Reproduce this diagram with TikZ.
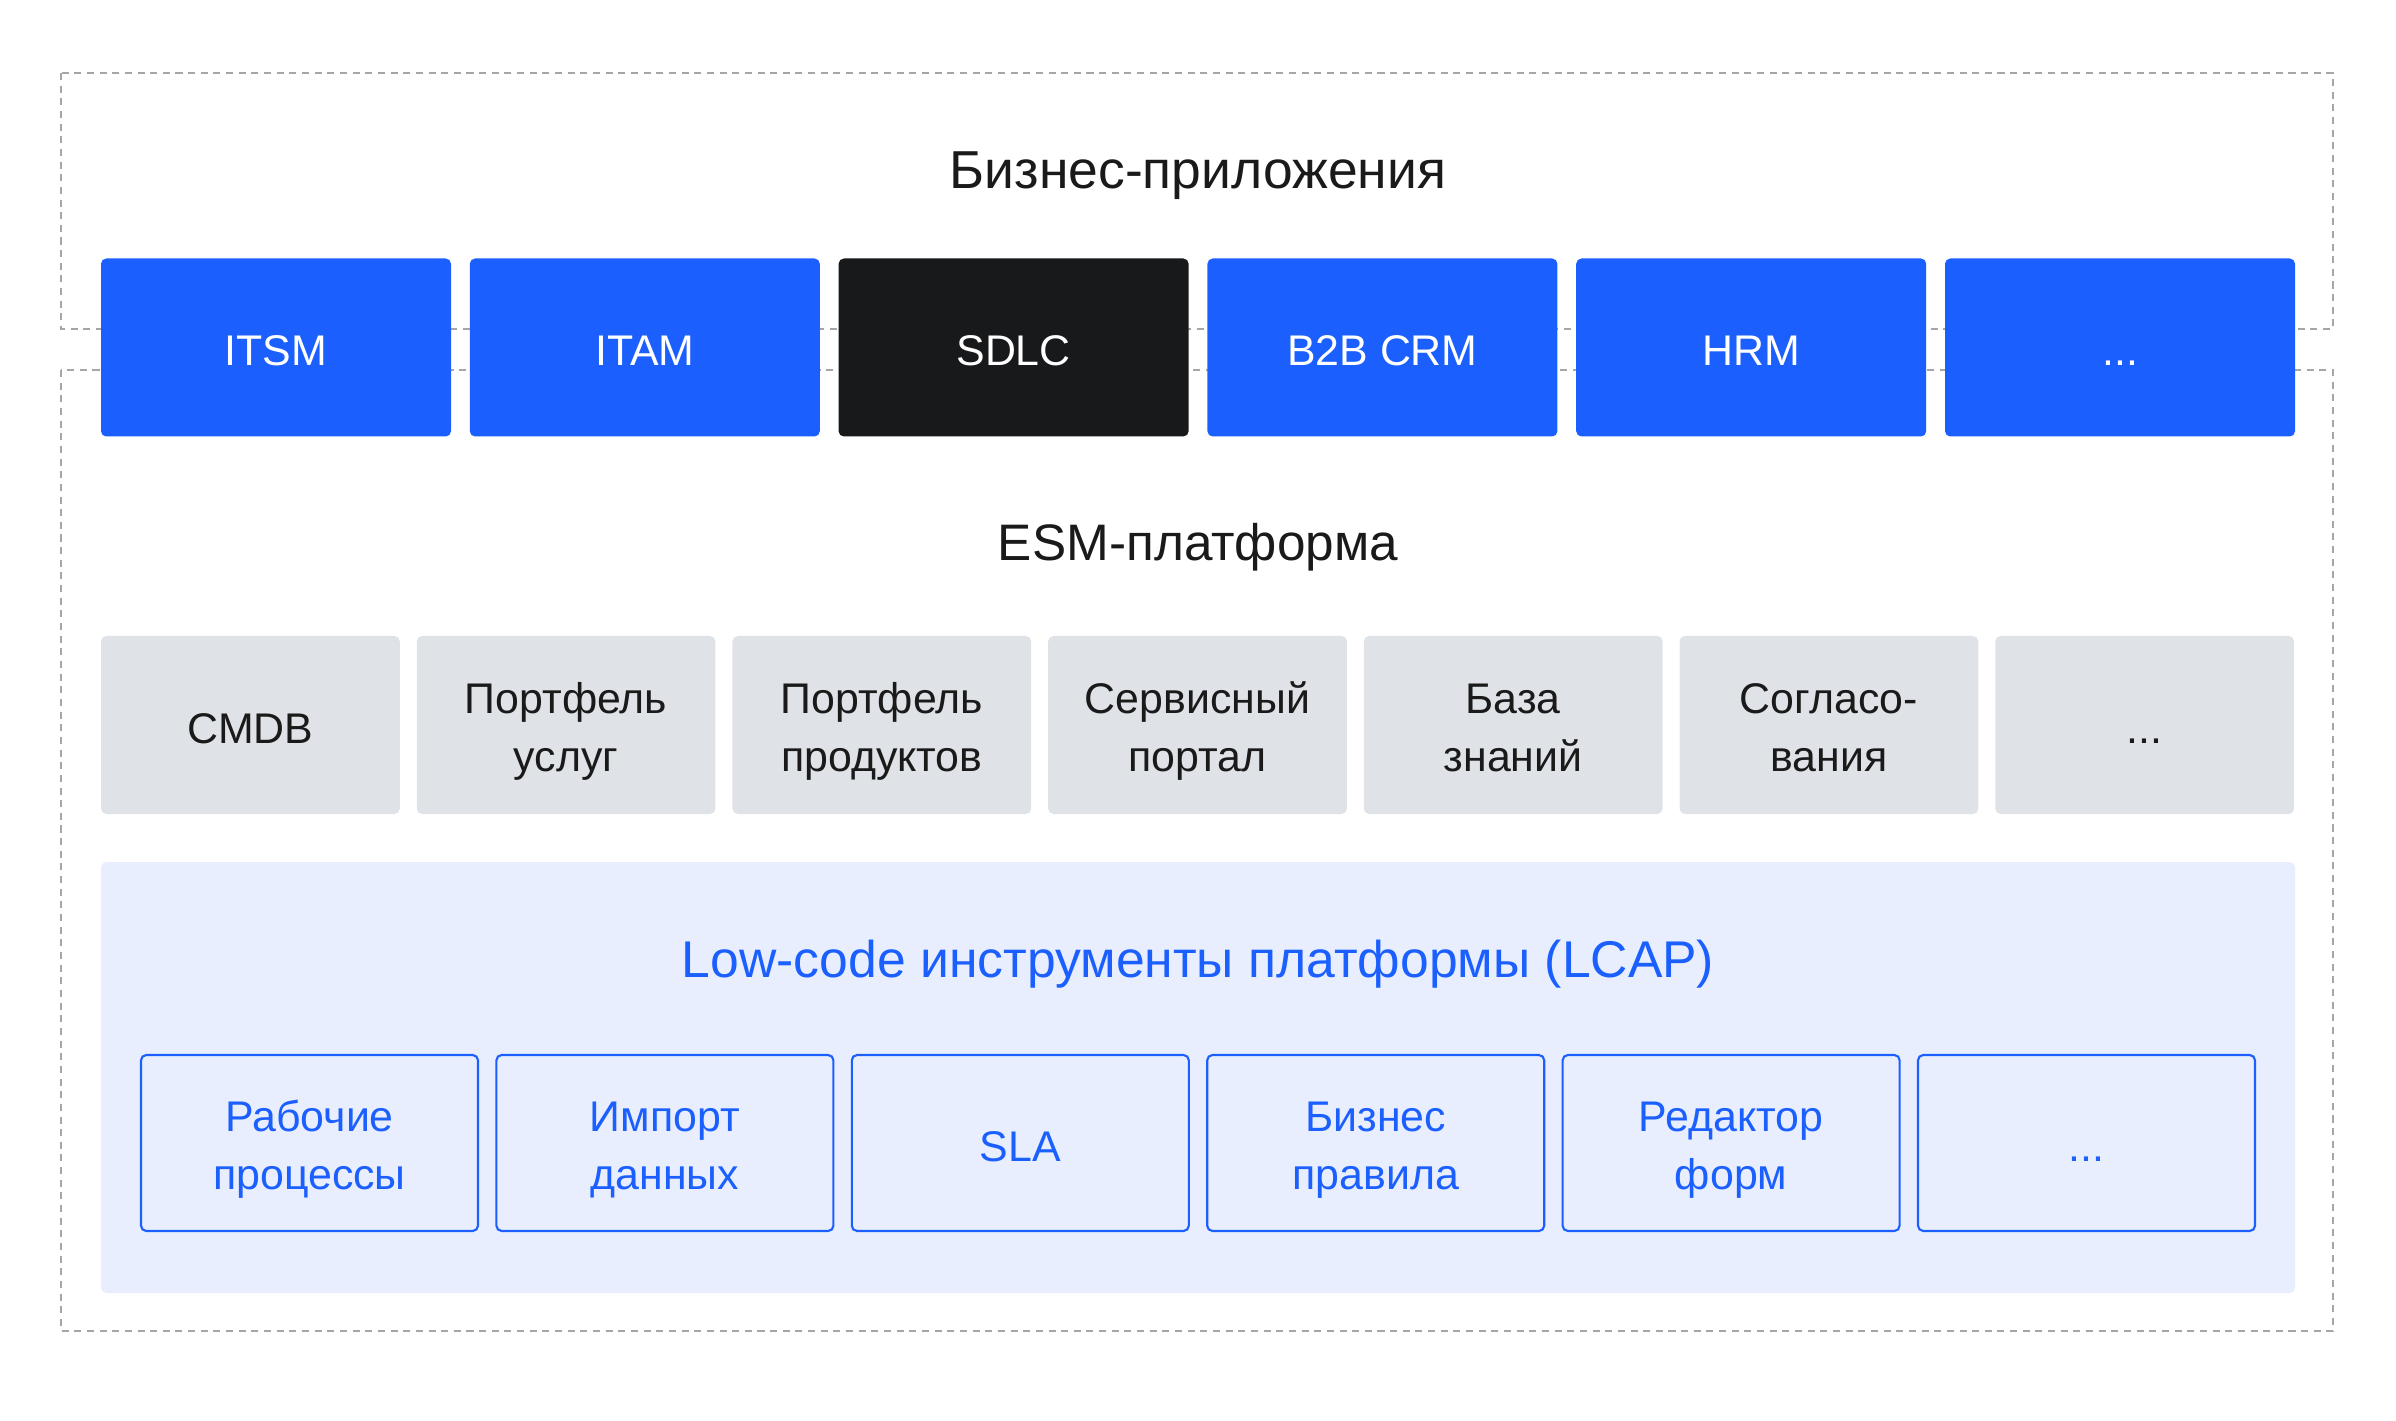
\documentclass[tikz,border=0pt]{standalone}
\usepackage{fontspec}
\setmainfont{Liberation Sans}
\usepackage{xcolor}
\usepackage{tikz}
\usetikzlibrary{positioning}
\definecolor{appblue}{HTML}{1B5FFF}
\definecolor{sdlcblack}{HTML}{18191B}
\definecolor{esmgrey}{HTML}{DFE2E6}
\definecolor{lcaplight}{HTML}{E8EEFD}
\definecolor{zonegrey}{HTML}{A6A6A6}
\definecolor{textdark}{HTML}{1A1A1A}
\newcommand{\twolines}[2]{\rule{0pt}{12.4pt}#1\\#2\rule[-2.6pt]{0pt}{2.6pt}}
\tikzset{
  basebox/.style={minimum height=1.78cm, align=center, rounded corners=1.5pt, inner sep=0pt, font=\fontsize{12.2}{16.5}\selectfont,
    execute at begin node={\rule{0pt}{10.4pt}}},
  appbox/.style={basebox, minimum width=3.5cm, fill=appblue, text=white},
  sdlcbox/.style={appbox, fill=sdlcblack},
  esmbox/.style={basebox, minimum width=2.987cm, fill=esmgrey, text=textdark},
  lcapbox/.style={basebox, minimum width=3.37cm, minimum height=1.76cm, draw=appblue, line width=0.6pt, fill=lcaplight, text=appblue},
  lcappanel/.style={minimum width=21.94cm, minimum height=4.31cm, rounded corners=1.5pt, fill=lcaplight, inner sep=0pt},
  zone/.style={draw=zonegrey, line width=0.6pt, dash pattern=on 2pt off 1.6pt},
  titletxt/.style={font=\fontsize{14.7}{18}\selectfont, text=textdark}
}

\begin{document}
\begin{tikzpicture}
\useasboundingbox (0,0) rectangle (23.96,-14.21);

% ===== DASHED ZONES =====
\draw[zone] (0.61,-0.73) rectangle (23.33,-3.29);
\draw[zone] (0.61,-3.70) rectangle (23.33,-13.31);

% ===== BUSINESS APPLICATIONS =====
\node[titletxt, font=\fontsize{15.2}{18}\selectfont] (BIZ) at (11.98,-1.76) {Бизнес-приложения};
\node[appbox]  (ITSM) at (2.760,-3.475)  {ITSM};
\node[appbox]  (ITAM) at (6.448,-3.475)  {ITAM};
\node[sdlcbox] (SDLC) at (10.136,-3.475) {SDLC};
\node[appbox]  (CRM)  at (13.824,-3.475) {B2B CRM};
\node[appbox]  (HRM)  at (17.512,-3.475) {HRM};
\node[appbox]  (APPX) at (21.200,-3.475) {...};

% ===== ESM PLATFORM =====
\node[titletxt, font=\fontsize{14.6}{18}\selectfont] (ESM) at (11.98,-5.47) {ESM-платформа};
\node[esmbox] (CMDB) at (2.504,-7.25)  {CMDB};
\node[esmbox] (PSV)  at (5.661,-7.25)  {\twolines{Портфель}{услуг}};
\node[esmbox] (PPR)  at (8.818,-7.25)  {\twolines{Портфель}{продуктов}};
\node[esmbox] (SPT)  at (11.975,-7.25) {\twolines{Сервисный}{портал}};
\node[esmbox] (KB)   at (15.132,-7.25) {\twolines{База}{знаний}};
\node[esmbox] (APR)  at (18.289,-7.25) {\twolines{Согласо-}{вания}};
\node[esmbox] (ESMX) at (21.446,-7.25) {...};

% ===== LOW-CODE PANEL =====
\node[lcappanel] (LCAP) at (11.98,-10.775) {};
\node[titletxt, text=appblue] (LCT) at (11.98,-9.645) {Low-code инструменты платформы (LCAP)};
\node[lcapbox] (WFL) at (3.095,-11.43)  {\twolines{Рабочие}{процессы}};
\node[lcapbox] (IMP) at (6.649,-11.43)  {\twolines{Импорт}{данных}};
\node[lcapbox] (SLA) at (10.203,-11.43) {SLA};
\node[lcapbox] (BRL) at (13.757,-11.43) {\twolines{Бизнес}{правила}};
\node[lcapbox] (FRM) at (17.311,-11.43) {\twolines{Редактор}{форм}};
\node[lcapbox] (LCX) at (20.865,-11.43) {...};

\end{tikzpicture}
\end{document}
